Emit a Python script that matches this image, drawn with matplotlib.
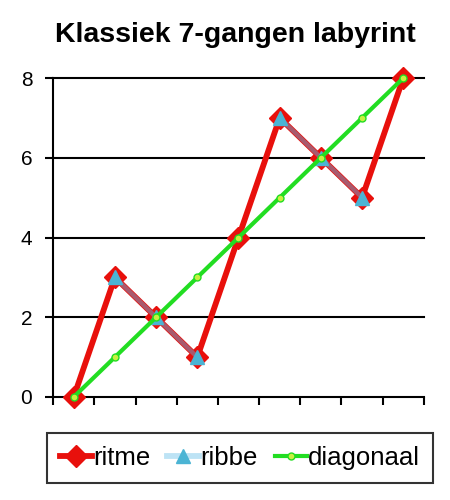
import matplotlib
matplotlib.use("Agg")
import matplotlib.pyplot as plt
from matplotlib.lines import Line2D
import numpy as np

plt.rcParams["font.family"] = ["Liberation Sans", "DejaVu Sans"]

positions = list(range(9))
ritme = [0, 3, 2, 1, 4, 7, 6, 5, 8]
ribbe = [np.nan, 3, 2, 1, np.nan, 7, 6, 5, np.nan]
diagonaal = [0, 1, 2, 3, 4, 5, 6, 7, 8]
y_ticks = [0, 2, 4, 6, 8]

fig = plt.figure(figsize=(4.5, 5), dpi=100)
ax = fig.add_axes([0.118, 0.206, 0.824, 0.638])

for y in y_ticks[1:]:
    ax.axhline(y, color="black", linewidth=1.5, zorder=1)

ax.plot(positions, ritme, color="#e8100c", linewidth=4.2, marker="D",
        markersize=11.5, markeredgecolor="#e8100c", zorder=3)
ax.plot(positions, ribbe, color="#a85a6e", linewidth=3.2, marker="^",
        markersize=10, markerfacecolor="#4bb4d4", markeredgecolor="#4bb4d4", zorder=4)
ax.plot(positions, diagonaal, color="#22dd22", linewidth=3.0, marker="o",
        markersize=5, markerfacecolor="#c8f040", markeredgecolor="#22dd22", zorder=5)

ax.set_xlim(-0.5, 8.5)
ax.set_ylim(0, 8)
ax.set_xticks(np.arange(-0.5, 9, 1))
ax.set_xticklabels([])
ax.set_yticks(y_ticks)
ax.tick_params(axis="both", length=6, width=1.5, color="black", labelsize=15)
ax.tick_params(axis="y", pad=9)
for side in ["top", "right"]:
    ax.spines[side].set_visible(False)
for side in ["left", "bottom"]:
    ax.spines[side].set_linewidth(1.5)
for line in ax.lines:
    line.set_clip_on(False)

fig.text(0.524, 0.93, "Klassiek 7-gangen labyrint", ha="center", va="center",
         fontsize=20.5, fontweight="bold")

handles = [
    Line2D([], [], color="#e8100c", linewidth=4.2, marker="D", markersize=11.5),
    Line2D([], [], color="#bde3f5", linewidth=4.2, marker="^", markersize=10,
           markerfacecolor="#4bb4d4", markeredgecolor="#4bb4d4"),
    Line2D([], [], color="#22dd22", linewidth=3.0, marker="o", markersize=5,
           markerfacecolor="#c8f040", markeredgecolor="#22dd22"),
]
leg = fig.legend(handles, ["ritme", "ribbe", "diagonaal"], loc="center",
                 bbox_to_anchor=(0.533, 0.084), ncol=3, fontsize=18.5,
                 frameon=True, fancybox=False, edgecolor="black",
                 handlelength=1.25, handletextpad=0.05, columnspacing=0.65,
                 borderpad=0.5)
leg.get_frame().set_linewidth(1.5)

fig.savefig("out.png", dpi=100)
